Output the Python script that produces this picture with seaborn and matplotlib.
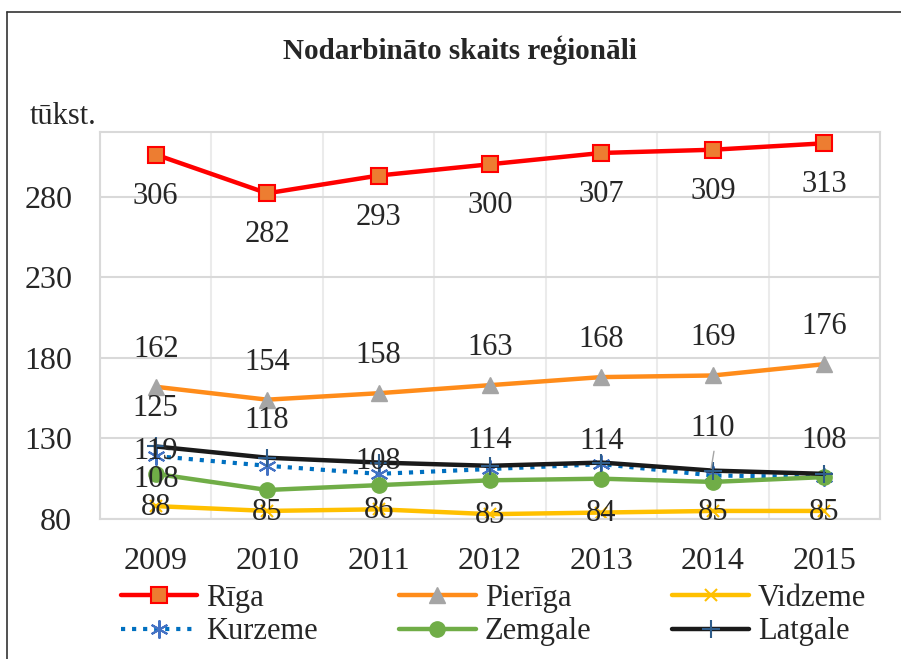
import numpy as np
import pandas as pd
import matplotlib.pyplot as plt
import seaborn as sns
from matplotlib.lines import Line2D

years = ['2009', '2010', '2011', '2012', '2013', '2014', '2015']
riga = [306, 282, 293, 300, 307, 309, 313]
pieriga = [162, 154, 158, 163, 168, 169, 176]
vidzeme = [88, 85, 86, 83, 84, 85, 85]
kurzeme = [119, 113, 108, 111, 114, 107, 106]
zemgale = [108, 98, 101, 104, 105, 103, 106]
latgale = [125, 118, 115, 113, 115, 110, 108]

# labels that the chart shows over the Latgale / Kurzeme / Zemgale cluster
latgale_labels = ['125', '118', '108', '114', '114', '110', '108']
kurzeme_labels = ['119', '', '', '', '', '', '']
zemgale_labels = ['108', '', '', '', '', '', '']

sns.set_style("white")
plt.rcParams['font.family'] = ['Liberation Serif', 'DejaVu Serif']

fig = plt.figure(figsize=(9.01, 6.59), dpi=100)
ax = fig.add_axes([100 / 901, 1 - 519 / 659, 780 / 901, 387 / 659])

series = [
    ('Rīga', riga, dict(color='#FF0000', lw=3.2, marker='s', ms=11, mfc='#ED7D31', mec='#FF0000', mew=1.5)),
    ('Pierīga', pieriga, dict(color='#FF8C1A', lw=3.2, marker='^', ms=11, mfc='#A5A5A5', mec='#A5A5A5')),
    ('Vidzeme', vidzeme, dict(color='#FFC000', lw=3.2, marker='x', ms=9, mec='#FFC000', mew=1.5)),
    ('Kurzeme', kurzeme, dict(color='#0070C0', lw=3, ls=':', marker=(6, 2, 0), ms=13, mec='#4472C4', mew=1.5)),
    ('Zemgale', zemgale, dict(color='#70AD47', lw=3.2, marker='o', ms=11, mfc='#70AD47', mec='#70AD47')),
    ('Latgale', latgale, dict(color='#1A1A1A', lw=3.2, marker='+', ms=13, mec='#2E5C8A', mew=1.5)),
]

handles = []
for name, vals, st in series:
    df = pd.DataFrame({'year': years, 'value': vals})
    kw = dict(st)
    sns.lineplot(data=df, x='year', y='value', ax=ax, color=kw.pop('color'),
                 linewidth=kw.pop('lw'), linestyle=kw.pop('ls', '-'),
                 marker=kw.pop('marker'), markersize=kw.pop('ms'),
                 markeredgecolor=kw.pop('mec'), markeredgewidth=kw.pop('mew', 1),
                 markerfacecolor=kw.pop('mfc', 'none'), label=name, legend=False)
    line = ax.lines[-1]
    handles.append(Line2D([], [], color=line.get_color(), lw=line.get_linewidth(),
                          ls=line.get_linestyle(), marker=line.get_marker(),
                          ms=line.get_markersize(), mfc=line.get_markerfacecolor(),
                          mec=line.get_markeredgecolor(), mew=line.get_markeredgewidth()))

fs = 22
for i, v in enumerate(riga):
    ax.annotate(str(v), (i, v), xytext=(0, -30), textcoords='offset points',
                ha='center', va='center', fontsize=fs)
for i, v in enumerate(pieriga):
    ax.annotate(str(v), (i, v), xytext=(0, 27), textcoords='offset points',
                ha='center', va='center', fontsize=fs)
for i, v in enumerate(vidzeme):
    ax.annotate(str(v), (i, v), xytext=(0, -1), textcoords='offset points',
                ha='center', va='center', fontsize=fs)

mid_dy = [27, 27, 1, 18, 15, 30, 24]
for i, (t, v) in enumerate(zip(latgale_labels, latgale)):
    ax.annotate(t, (i, v), xytext=(0, mid_dy[i]), textcoords='offset points',
                ha='center', va='center', fontsize=fs)
ax.plot([5 - 0.015, 5.01], [latgale[5] + 1.5, latgale[5] + 12], color='#A5A5A5', lw=1)
for i, (t, v) in enumerate(zip(kurzeme_labels, kurzeme)):
    if t:
        ax.annotate(t, (i, v), xytext=(0, 3), textcoords='offset points',
                    ha='center', va='center', fontsize=fs)
for i, (t, v) in enumerate(zip(zemgale_labels, zemgale)):
    if t:
        ax.annotate(t, (i, v), xytext=(0, -4), textcoords='offset points',
                    ha='center', va='center', fontsize=fs)

ax.set_xlim(-0.5, 6.5)
ax.set_ylim(80, 320)
ax.set_yticks([80, 130, 180, 230, 280])
ax.set_xticks(range(len(years)))
ax.set_xticklabels(years)
ax.set_xticks(np.arange(-0.5, 7, 0.5), minor=True)
ax.grid(True, axis='x', which='minor', color='#EBEBEB', lw=1.5)
ax.grid(True, axis='y', which='major', color='#D9D9D9', lw=1.5)
ax.tick_params(axis='both', which='both', length=0, labelsize=fs + 1)
ax.tick_params(axis='x', pad=20)
ax.tick_params(axis='y', pad=20)
ax.set_xlabel('')
ax.set_ylabel('')
for s in ax.spines.values():
    s.set_color('#D9D9D9')
    s.set_linewidth(1.5)
ax.set_axisbelow(True)

fig.text(460 / 901, 1 - 50 / 659, 'Nodarbināto skaits reģionāli', ha='center', va='center',
         fontsize=21, fontweight='bold')
fig.text(30 / 901, 1 - 117 / 659, 'tūkst.', ha='left', va='center', fontsize=fs)

# legend is filled column by column, so reorder to read row by row
order = [0, 3, 1, 4, 2, 5]
fig.legend([handles[k] for k in order], [series[k][0] for k in order], ncol=3,
           loc='center left', bbox_to_anchor=(121 / 901, 1 - 615 / 659), frameon=False,
           fontsize=fs, handlelength=2.5, handletextpad=0.3, columnspacing=2.65,
           labelspacing=0.15, borderpad=0, borderaxespad=0)

fig.add_artist(Line2D([7 / 901, 7 / 901], [0, 1 - 12 / 659], color='#333333', lw=1.2))
fig.add_artist(Line2D([7 / 901, 1], [1 - 12 / 659, 1 - 12 / 659], color='#333333', lw=1.2))

fig.savefig('out.png', dpi=100)
